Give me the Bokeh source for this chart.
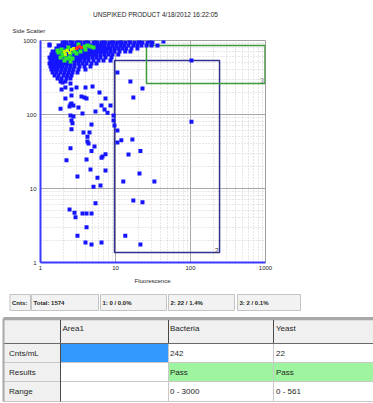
from bokeh.plotting import figure
from bokeh.layouts import column
from bokeh.models import Range1d, FixedTicker, NumeralTickFormatter
from bokeh.core.properties import value
from bokeh.embed import file_html
from bokeh.resources import INLINE

FONT = "Liberation Sans"
TXT = "#1e1e1e"

# ---------------- data ----------------
title_text = "UNSPIKED PRODUCT  4/18/2012 16:22:05"
y_title = "Side Scatter"
x_title = "Fluorescence"

axis_ticks = [1, 10, 100, 1000]
axis_minor = [2, 3, 4, 5, 6, 7, 8, 9, 20, 30, 40, 50, 60, 70, 80, 90,
              200, 300, 400, 500, 600, 700, 800, 900]

# dense main population (Side Scatter level -> Fluorescence values)
cluster_row_y = [969, 940, 856, 780, 710, 647, 589, 537, 489, 445, 405, 370, 337, 306, 279]
cluster_row_x = [
    [2.09, 2.51, 3.21, 4.11, 5.41, 6.92, 9.12, 11.7, 15.3, 20.9, 29.3],
    [1.97, 2.22, 2.67, 3.02, 3.41, 3.86, 4.37, 5.09, 5.75, 6.51, 7.36, 8.32, 9.41, 10.6, 12.0, 13.5,
     15.8, 17.9, 20.2, 22.9, 26.7, 31.1],
    [1.32, 1.74, 1.91, 2.09, 2.36, 2.59, 2.84, 3.11, 3.41, 3.74, 4.11, 4.5, 4.94, 5.41, 5.93, 6.51,
     7.14, 8.07, 9.12, 10.3, 11.7, 13.1, 14.9, 17.3, 19.6, 22.2, 25.9, 30.2, 36.3],
    [1.63, 1.79, 1.97, 2.15, 2.36, 2.59, 2.84, 3.11, 3.41, 3.74, 4.11, 4.5, 4.94, 5.41, 5.93, 6.51,
     7.14, 7.83, 8.58, 9.7, 10.9, 12.3, 13.9, 16.3, 19.6],
    [1.45, 1.59, 1.74, 1.91, 2.09, 2.29, 2.51, 2.75, 3.02, 3.31, 3.63, 3.98, 4.37, 4.79, 5.25, 5.75,
     6.31, 6.92, 7.59, 8.58, 9.7, 11.3, 13.5, 15.8],
    [1.40, 1.54, 1.69, 1.85, 2.03, 2.22, 2.44, 2.67, 2.93, 3.21, 3.52, 3.86, 4.23, 4.64, 5.09, 5.58,
     6.31, 7.14, 8.07, 9.12, 10.9],
    [1.32, 1.45, 1.59, 1.74, 1.91, 2.09, 2.29, 2.51, 2.75, 3.02, 3.31, 3.63, 3.98, 4.37, 4.94, 5.58,
     6.31, 7.36, 8.85],
    [1.36, 1.49, 1.63, 1.79, 1.97, 2.15, 2.36, 2.59, 2.84, 3.11, 3.41, 3.86, 4.37, 5.09, 5.93, 6.92, 8.58],
    [1.32, 1.45, 1.59, 1.74, 1.91, 2.09, 2.29, 2.51, 2.84, 3.21, 3.63, 4.11, 4.79, 5.58],
    [1.36, 1.49, 1.63, 1.79, 1.97, 2.22, 2.51, 2.84, 3.31, 3.86, 4.64],
    [1.40, 1.54, 1.69, 1.91, 2.15, 2.44, 2.75, 3.21, 3.98],
    [1.45, 1.63, 1.85, 2.09, 2.36, 2.67, 3.11],
    [1.54, 1.74, 2.03, 2.29, 2.59],
    [1.69, 1.91, 2.22, 2.51],
    [1.85, 2.15],
]

# sparse events
sparse_x = [1.97, 2.15, 2.51, 1.91, 2.59, 3.02, 3.98, 4.94, 3.52, 3.86, 4.11, 6.12, 2.15, 2.59, 2.59,
            2.51, 2.75, 2.44, 3.21, 1.85, 6.51, 8.58, 5.41, 7.14, 7.83, 7.36, 3.63, 2.51, 2.75, 2.59,
            2.67, 4.79, 2.59, 3.74, 4.5, 4.23, 9.41, 9.41, 9.7, 10.6, 4.23, 4.37, 5.25, 2.51, 4.79,
            7.36, 6.51, 2.22, 4.11, 4.64, 7.36, 3.11, 5.75, 5.09, 6.31, 5.41, 2.44, 2.84, 2.93, 3.63,
            4.11, 4.79, 4.11, 3.11, 3.98, 4.79, 6.51, 12.7, 17.3, 22.9, 13.5, 21.5, 10.6, 11.96, 16.8,
            6.71, 14.9, 21.5, 20.9, 33.0, 103, 10.6, 15.8, 22.9, 17.3, 103, 1.32, 43.6]
sparse_y = [271, 231, 262, 218, 218, 231, 231, 239, 175, 170, 164, 198, 164, 181, 141,
            137, 132, 128, 124, 120, 132, 132, 110, 117, 106, 164, 103, 97, 94, 83,
            76, 73, 63, 57, 57, 50, 97, 83, 71, 61, 43, 40.5, 37, 35, 32,
            29, 26, 24, 24.7, 18, 17.5, 14.5, 14, 10.6, 11, 6.3, 5.2, 4.7, 4.1, 4.6,
            4.6, 4.6, 3.0, 2.3, 1.86, 1.75, 1.86, 12.4, 6.9, 6.5, 2.3, 1.75, 42, 45, 46,
            27, 28.8, 32, 16, 12.4, 537, 370, 279, 225, 170, 80, 883, 969]

# density highlights inside the main population
green_x = [1.74, 1.91, 2.03, 2.22, 2.36, 2.51, 2.67, 2.84, 2.44, 2.22, 1.85, 2.09, 2.51, 3.86,
           4.23, 4.64, 5.09, 3.98, 3.21, 3.02, 3.41, 1.97, 1.69]
green_y = [689, 756, 627, 733, 804, 667, 571, 710, 589, 571, 589, 537, 520, 830,
           856, 830, 804, 756, 883, 667, 710, 667, 733]
yellow_x = [2.09, 2.29, 2.59, 2.75, 2.44, 2.15]
yellow_y = [710, 733, 756, 780, 689, 647]
red_x = [3.11, 3.31, 3.52, 3.02]
red_y = [804, 830, 804, 780]

# gates
gate_names = ["2", "3"]
gate_left = [9.7, 25.9]
gate_right = [244, 985]
gate_bottom = [1.36, 263]
gate_top = [537, 853]
gate_colors = ["#30308f", "#3c9a3c"]
gate_label_colors = ["#404040", "#8a8a8a"]

# status bar
status_text = ["Cnts:", "Total: 1574", "1: 0 / 0.0%", "2: 22 / 1.4%", "3: 2 / 0.1%"]

# results table
table_header = ["", "Area1", "Bacteria", "Yeast"]
table_row_names = ["Cnts/mL", "Results", "Range"]
area1_vals = ["", "", ""]
bacteria_vals = ["242", "Pass", "0 - 3000"]
yeast_vals = ["22", "Pass", "0 - 561"]

# ---------------- header strip (title + y title) ----------------
h = figure(x_range=Range1d(0, 373), y_range=Range1d(37, 0),
           frame_width=373, frame_height=37, min_border=0, frame_align=False,
           x_axis_type=None, y_axis_type=None,
           output_backend="svg", toolbar_location=None)
h.outline_line_color = None
h.grid.visible = False
h.text(x=[156], y=[13.5], text=[title_text], text_align="center", text_baseline="middle",
       text_font=value(FONT), text_font_size="6.5px", text_color=TXT)
h.text(x=[12], y=[30], text=[y_title], text_align="left", text_baseline="middle",
       text_font=value(FONT), text_font_size="6px", text_color=TXT)

# ---------------- scatter plot ----------------
cx, cy = [], []
for yy, row in zip(cluster_row_y, cluster_row_x):
    for xx in row:
        cx.append(xx)
        cy.append(yy)

p = figure(x_axis_type="log", y_axis_type="log",
           x_range=Range1d(1, 1000), y_range=Range1d(1, 1000),
           frame_width=225, frame_height=222, frame_align=False,
           min_border_left=40, min_border_right=108, min_border_top=3, min_border_bottom=12,
           output_backend="svg", toolbar_location=None)
p.outline_line_color = "#a0a0a0"
p.background_fill_color = "white"
p.border_fill_color = "white"

ticker = FixedTicker(ticks=axis_ticks, minor_ticks=axis_minor)
for ax in (p.xaxis[0], p.yaxis[0]):
    ax.ticker = ticker
    ax.formatter = NumeralTickFormatter(format="0")
    ax.axis_line_color = "#3a3aff"
    ax.axis_line_width = 2
    ax.major_tick_line_color = None
    ax.minor_tick_line_color = None
    ax.major_tick_out = 0
    ax.major_tick_in = 0
    ax.minor_tick_out = 0
    ax.minor_tick_in = 0
    ax.major_label_text_font = FONT
    ax.major_label_text_font_size = "6px"
    ax.major_label_text_color = TXT
p.xaxis[0].major_label_standoff = 3
p.yaxis[0].major_label_standoff = 4
for g in (p.xgrid[0], p.ygrid[0]):
    g.ticker = ticker
    g.grid_line_color = "#a8a8a8"
    g.grid_line_width = 1
    g.minor_grid_line_color = "#cfcfcf"
    g.minor_grid_line_dash = "1 2"
    g.minor_grid_line_width = 1

p.quad(left=gate_left, right=gate_right, bottom=gate_bottom, top=gate_top,
       fill_color=None, line_color=gate_colors, line_width=1.5)

p.scatter(cx, cy, marker="square", size=4, fill_color="#1414ff", line_color=None)
p.scatter(sparse_x, sparse_y, marker="square", size=4, fill_color="#1414ff", line_color=None)
p.scatter(green_x, green_y, marker="square", size=4, fill_color="#2ee82e", line_color=None)
p.scatter(yellow_x, yellow_y, marker="square", size=3, fill_color="#c8f000", line_color=None)
p.scatter(red_x, red_y, marker="square", size=3, fill_color="#ff2a2a", line_color=None)

p.text(x=gate_right, y=gate_bottom, text=gate_names, text_align="right", text_baseline="bottom",
       x_offset=-1, y_offset=0, text_font=value(FONT), text_font_size="7px",
       text_color=gate_label_colors)

# ---------------- x title, status bar and table ----------------
t = figure(x_range=Range1d(0, 373), y_range=Range1d(403, 274),
           frame_width=373, frame_height=129, min_border=0, frame_align=False,
           x_axis_type=None, y_axis_type=None,
           output_backend="svg", toolbar_location=None)
t.outline_line_color = None
t.grid.visible = False

t.text(x=[152], y=[280], text=[x_title], text_align="center", text_baseline="middle",
       text_font=value(FONT), text_font_size="6px", text_color=TXT)

s_left = [9.5, 31, 100, 168, 237]
s_right = [30, 98, 166, 234, 300]
t.quad(left=s_left, right=s_right, top=[294] * 5, bottom=[310] * 5,
       fill_color="#f2f2f2", line_color="#c4c4c4", line_width=1)
t.text(x=[v + 2 for v in s_left], y=[302] * 5, text=status_text, text_baseline="middle",
       text_font=value(FONT), text_font_size="6px", text_font_style="bold", text_color=TXT)

col_edges = [3, 60, 168, 273, 380]
row_edges = [319.5, 343, 362, 381, 401]
table_cells = [table_header] + [[n, a, b, c] for n, a, b, c in
                                zip(table_row_names, area1_vals, bacteria_vals, yeast_vals)]
L, R, T, B, F = [], [], [], [], []
for ri in range(4):
    for ci in range(4):
        L.append(col_edges[ci]); R.append(col_edges[ci + 1])
        T.append(row_edges[ri]); B.append(row_edges[ri + 1])
        if ri == 0 or ci == 0:
            F.append("#f0f0f0")
        elif ri == 1 and ci == 1:
            F.append("#3399ff")
        elif ri == 2 and ci >= 2:
            F.append("#9ff59f")
        else:
            F.append("white")
t.quad(left=L, right=R, top=T, bottom=B, fill_color=F, line_color="#c8c8c8", line_width=1)

# header / row-header shading lines
t.segment(x0=[60, 168, 273], y0=[319.5] * 3, x1=[60, 168, 273], y1=[343] * 3,
          line_color="#4a4a4a", line_width=1)
t.segment(x0=[60], y0=[343], x1=[60], y1=[401], line_color="#4a4a4a", line_width=1)
t.segment(x0=[3], y0=[343], x1=[380], y1=[343], line_color="#6a6a6a", line_width=1)
t.segment(x0=[3], y0=[318], x1=[380], y1=[318], line_color="#a8a8a8", line_width=3)
t.segment(x0=[3], y0=[318], x1=[3], y1=[401], line_color="#a8a8a8", line_width=2)

tx, ty, tt = [], [], []
text_mid = [328, 352.5, 371.5, 391]
text_x = [8.5, 62, 169.5, 275.5]
for ri in range(4):
    for ci in range(4):
        if table_cells[ri][ci]:
            tx.append(text_x[ci]); ty.append(text_mid[ri]); tt.append(table_cells[ri][ci])
t.text(x=tx, y=ty, text=tt, text_baseline="middle", text_font=value(FONT),
       text_font_size="8px", text_color=TXT)

layout = column(h, p, t, spacing=0)
open("out.html", "w").write(file_html(layout, INLINE))
